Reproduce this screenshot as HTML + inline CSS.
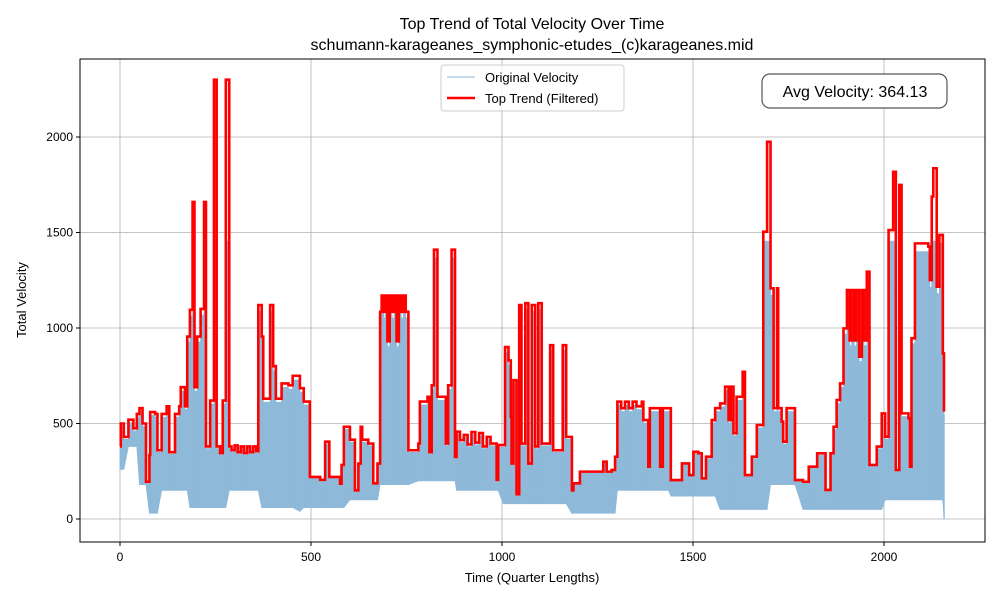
<!DOCTYPE html>
<html><head><meta charset="utf-8"><style>
body{margin:0;background:#fff;font-family:"Liberation Sans",sans-serif}
svg text{font-family:"Liberation Sans","DejaVu Sans",sans-serif}
</style></head><body>
<svg id="c" width="1000" height="600" viewBox="0 0 1000 600">
<rect width="1000" height="600" fill="#fff"/>
<text x="532" y="29" text-anchor="middle" font-size="16">Top Trend of Total Velocity Over Time</text>
<text x="532" y="50" text-anchor="middle" font-size="16">schumann-karageanes_symphonic-etudes_(c)karageanes.mid</text>
<g id="grid"></g>
<g id="blue"></g>
<g id="red"></g>
<rect x="80" y="59" width="905" height="483" fill="none" stroke="#000" stroke-width="1"/>
<g id="ticks"></g>
<text x="532" y="582" text-anchor="middle" font-size="13">Time (Quarter Lengths)</text>
<text x="26" y="300" text-anchor="middle" font-size="13" transform="rotate(-90 26 300)">Total Velocity</text>
<g>
<rect x="441" y="65" width="183" height="46" rx="3" fill="#fff" fill-opacity="0.8" stroke="#ccc"/>
<line x1="447" y1="77" x2="475" y2="77" stroke="#8fb9d9" stroke-width="1"/>
<text x="485" y="82" font-size="13">Original Velocity</text>
<line x1="447" y1="98" x2="475" y2="98" stroke="#f00" stroke-width="2.5"/>
<text x="485" y="103" font-size="13">Top Trend (Filtered)</text>
</g>
<g>
<rect x="762" y="74" width="185" height="34" rx="8" fill="#fff" stroke="#555" stroke-width="1.2"/>
<text x="855" y="97" text-anchor="middle" font-size="16">Avg Velocity: 364.13</text>
</g>
</svg>
<script>
const trendTimes=[0,2,10,22,35,44,51,59,68,77,79,92,98,109,122,129,144,155,159,170,176,183,190,195,202,211,220,225,236,246,253,262,269,277,286,292,300,308,316,324,332,340,348,356,362,371,375,393,401,408,423,441,452,471,481,497,524,537,548,576,580,586,602,615,624,630,634,650,663,674,681,685,690,694,700,706,712,718,724,730,736,742,748,755,781,785,805,810,816,822,831,848,853,859,868,877,881,890,900,910,920,930,940,950,960,970,986,990,1003,1008,1017,1023,1025,1030,1038,1045,1051,1061,1069,1078,1087,1095,1104,1126,1134,1159,1168,1183,1187,1204,1239,1265,1274,1287,1296,1302,1312,1322,1332,1342,1352,1366,1370,1383,1387,1405,1414,1421,1436,1442,1466,1471,1485,1490,1501,1514,1523,1534,1549,1558,1571,1584,1593,1599,1606,1614,1630,1636,1654,1667,1675,1684,1694,1703,1711,1720,1723,1732,1736,1745,1758,1767,1788,1803,1825,1838,1847,1860,1868,1876,1885,1894,1903,1910,1915,1922,1928,1935,1942,1948,1955,1962,1981,1994,2003,2012,2024,2031,2040,2046,2064,2068,2072,2081,2116,2120,2125,2129,2138,2145,2154,2157];
const trendValues=[380,500,430,520,475,550,580,500,195,335,560,550,360,550,590,350,550,590,690,590,955,1095,1660,690,955,1100,1660,380,620,2300,380,345,620,2300,380,360,385,350,380,345,380,350,380,355,1120,955,630,1120,800,630,710,700,750,685,615,220,205,405,220,185,283,483,415,150,290,483,415,395,187,290,1085,1170,1085,1170,930,1170,1085,1170,930,1170,1085,1170,1085,360,395,615,640,350,700,1410,640,640,395,700,1410,325,457,413,440,390,455,400,450,380,430,395,205,387,387,900,830,535,290,727,130,1120,395,1130,290,1120,380,1130,395,910,360,910,430,150,187,248,248,300,248,257,326,614,580,614,580,614,590,614,518,274,580,580,274,580,580,204,204,291,291,230,352,344,213,326,518,580,605,693,518,693,449,640,771,230,326,492,492,1504,1975,1208,580,1208,580,510,405,580,580,204,195,274,344,344,152,344,483,623,710,998,1199,935,1199,935,1199,850,1199,935,1295,283,379,553,431,1513,1818,257,1749,553,527,274,946,1443,1426,1251,1688,1836,1216,1487,867,562];
const lowTimes=[0,20,50,70,100,180,280,370,460,480,600,680,760,880,1000,1180,1300,1440,1560,1700,1780,1880,2000,2150,2157];
const lowValues=[260,380,180,30,150,60,150,60,40,60,100,180,200,150,80,30,150,120,50,180,50,50,100,100,0];
const xTicks=[0,500,1000,1500,2000];
const yTicks=[0,500,1000,1500,2000];
const NS='http://www.w3.org/2000/svg';
const sx=t=>120+t*0.382, sy=v=>519-v*0.191;
function mk(tag,attrs,parent){const e=document.createElementNS(NS,tag);for(const k in attrs)e.setAttribute(k,attrs[k]);document.getElementById(parent).appendChild(e);return e;}
xTicks.forEach(t=>{
 const g=mk('line',{x1:sx(t),x2:sx(t),y1:59,y2:542,stroke:'#b0b0b0','stroke-width':0.8},'grid');
 
 
 mk('line',{x1:sx(t),x2:sx(t),y1:542,y2:546,stroke:'#000'},'ticks');
 const tx=mk('text',{x:sx(t),y:561,'text-anchor':'middle','font-size':12},'ticks');tx.textContent=t;
 
 
});
yTicks.forEach(v=>{
 const g=mk('line',{x1:80,x2:985,y1:sy(v),y2:sy(v),stroke:'#b0b0b0','stroke-width':0.8},'grid');
 
 
 mk('line',{x1:76,x2:80,y1:sy(v),y2:sy(v),stroke:'#000'},'ticks');
 const tx=mk('text',{x:73,y:sy(v)+4,'text-anchor':'end','font-size':12},'ticks');tx.textContent=v;
 
 
});
function lowAt(t){let v=lowValues[0];for(let i=0;i<lowTimes.length;i++){if(lowTimes[i]<=t)v=lowValues[i];}return v;}
let d='';
for(let i=0;i<trendTimes.length;i++){const t0=trendTimes[i],t1=i+1<trendTimes.length?trendTimes[i+1]:t0+1;const top=Math.min(trendValues[i],1500)*0.97;
 d+=`M${sx(t0)},${sy(lowAt(t0))}L${sx(t0)},${sy(top)}L${sx(t1)},${sy(top)}L${sx(t1)},${sy(lowAt(t1))}Z`;}
const bl=mk('path',{d:d,fill:'#8fb9d9',stroke:'#8fb9d9','stroke-width':0.8},'blue');


let p='';
trendTimes.forEach((t,i)=>{const y=sy(trendValues[i]);if(i===0)p+=`M${sx(t)},${y}`;else p+=`L${sx(t)},${sy(trendValues[i-1])}L${sx(t)},${y}`;});
const rl=mk('path',{d:p,fill:'none',stroke:'#f00','stroke-width':2.6,'stroke-linejoin':'miter'},'red');


</script>
</body></html>
